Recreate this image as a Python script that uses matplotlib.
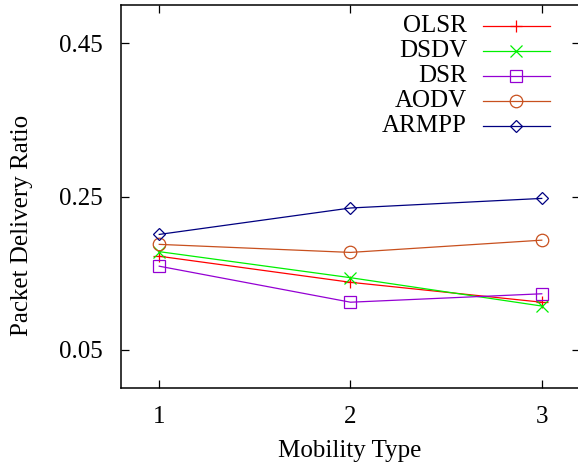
import matplotlib
matplotlib.use("Agg")
import matplotlib.pyplot as plt
from matplotlib.lines import Line2D

mobility = [1, 2, 3]
series_names = ["OLSR", "DSDV", "DSR", "AODV", "ARMPP"]
olsr = [0.172, 0.138, 0.112]
dsdv = [0.178, 0.144, 0.107]
dsr = [0.159, 0.112, 0.123]
aodv = [0.1875, 0.177, 0.193]
armpp = [0.2005, 0.235, 0.2475]
yticks = [0.05, 0.25, 0.45]
xticks = [1, 2, 3]

values = [olsr, dsdv, dsr, aodv, armpp]
colors = ["#ff0000", "#00f000", "#9400d3", "#c8501e", "#000080"]
markers = ["+", "x", "s", "o", "D"]
msizes = [9, 9, 9, 9, 6]

plt.rcParams['font.family'] = ['Liberation Serif', 'DejaVu Serif']
W, H = 578, 465
fig = plt.figure(figsize=(W / 100, H / 100), dpi=100)
L, R, T, B = 121, 580, 5, 388
ax = fig.add_axes([L / W, 1 - B / H, (R - L) / W, (B - T) / H])

for name, v, c, m, s in zip(series_names, values, colors, markers, msizes):
    ax.plot(mobility, v, color=c, marker=m, markersize=s, markerfacecolor='none',
            markeredgecolor=c, markeredgewidth=0.9, linewidth=0.9)

ax.set_xlim(0.8, 3.2)
ax.set_ylim(0.0, 0.5)
ax.set_xticks(xticks)
ax.set_yticks(yticks)
ax.set_yticklabels([f"{t:.2f}" for t in yticks])
ax.tick_params(direction='in', length=6, width=0.9, top=True, right=True,
               labelsize=18)
ax.tick_params(axis='x', pad=13)
ax.tick_params(axis='y', pad=13)
for sp in ax.spines.values():
    sp.set_linewidth(1.1)

fig.text(22 / W, 1 - 225 / H, "Packet Delivery Ratio", rotation=90,
         ha='center', va='center', fontsize=18)
fig.text(350 / W, 1 - 451 / H, "Mobility Type", ha='center', va='center',
         fontsize=18)

# legend
def axx(px):
    return (px - L) / (R - L)

def axy(py):
    return (B - py) / (B - T)

for i, (name, c, m, s) in enumerate(zip(series_names, colors, markers, msizes)):
    py = 26 + 25 * i
    ax.text(axx(467), axy(py), name, ha='right', va='center', fontsize=18,
            transform=ax.transAxes)
    ax.add_line(Line2D([axx(483), axx(550)], [axy(py), axy(py)],
                       transform=ax.transAxes, color=c, linewidth=0.9))
    ax.add_line(Line2D([axx(516.5)], [axy(py)], transform=ax.transAxes,
                       color=c, marker=m, markersize=s, markerfacecolor='none',
                       markeredgecolor=c, markeredgewidth=0.9, linestyle='none'))

fig.savefig("out.png", dpi=100)
